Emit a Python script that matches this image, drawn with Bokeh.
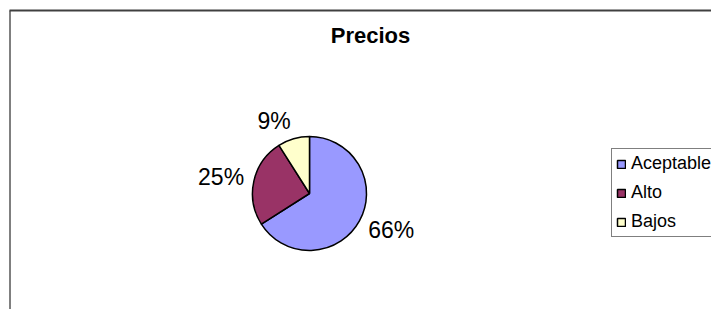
import numpy as np
from bokeh.plotting import figure
from bokeh.models import Range1d, Label, Legend, LegendItem, ColumnDataSource
from bokeh.embed import file_html
from bokeh.resources import INLINE

# Data
title_text = "Precios"
categories = ["Aceptable", "Alto", "Bajos"]
percent = [66, 25, 9]
colors = ["#9999FF", "#993366", "#FFFFCC"]

W, H = 711, 309
p = figure(width=W, height=H, output_backend="svg", toolbar_location=None,
           x_range=Range1d(0, W), y_range=Range1d(0, H),
           min_border=0, outline_line_color=None)
p.axis.visible = False
p.grid.visible = False
p.background_fill_color = "white"
p.border_fill_color = "white"

def sy(screen_y):
    return H - screen_y

# chart border (only left and top edges are visible)
p.segment(x0=[9.5], y0=[sy(10)], x1=[9.5], y1=[-20], line_color="#000000", line_width=1)
p.segment(x0=[9], y0=[sy(10)], x1=[W + 20], y1=[sy(10)], line_color="#404040", line_width=2)

cx, cy, r = 309, sy(193), 57
vals = np.array(percent, dtype=float)
frac = vals / vals.sum()
ends = np.pi / 2 - 2 * np.pi * np.cumsum(frac)
starts = np.concatenate([[np.pi / 2], ends[:-1]])
src = ColumnDataSource(dict(start=ends, end=starts, color=colors, cat=categories))
rend = p.wedge(x=cx, y=cy, radius=r, start_angle="start", end_angle="end",
               fill_color="color", line_color="black", line_width=1.5, source=src)

# percentage labels outside the slices
mids = (starts + ends) / 2
D = r + 10
for m, v in zip(mids, percent):
    c, s = np.cos(m), np.sin(m)
    align = "left" if c > 0.2 else ("right" if c < -0.2 else "center")
    p.add_layout(Label(x=cx + D * c, y=cy + D * s, y_offset=8 * s, text=f"{v}%",
                       text_align=align, text_baseline="middle",
                       text_font="Liberation Sans", text_font_size="23px",
                       text_color="black"))

p.add_layout(Label(x=370, y=sy(35), text=title_text, text_align="center",
                   text_baseline="middle", text_font="Liberation Sans",
                   text_font_style="bold", text_font_size="22px", text_color="black"))

items = [LegendItem(label=c, renderers=[rend], index=i) for i, c in enumerate(categories)]
pad, lh, sp = 4, 20, 8
leg_h = 2 * pad + 3 * lh + 2 * sp
legend = Legend(items=items, location=(611, H - (153 + leg_h)), orientation="vertical",
                label_text_font="Liberation Sans", label_text_font_size="18px",
                label_text_color="black",
                glyph_width=10, glyph_height=10, label_height=lh, label_width=110,
                spacing=sp, padding=pad, margin=0, label_standoff=5,
                border_line_color="black", border_line_width=1,
                background_fill_color="white", background_fill_alpha=1)
p.add_layout(legend)

open("out.html", "w").write(file_html(p, INLINE))
